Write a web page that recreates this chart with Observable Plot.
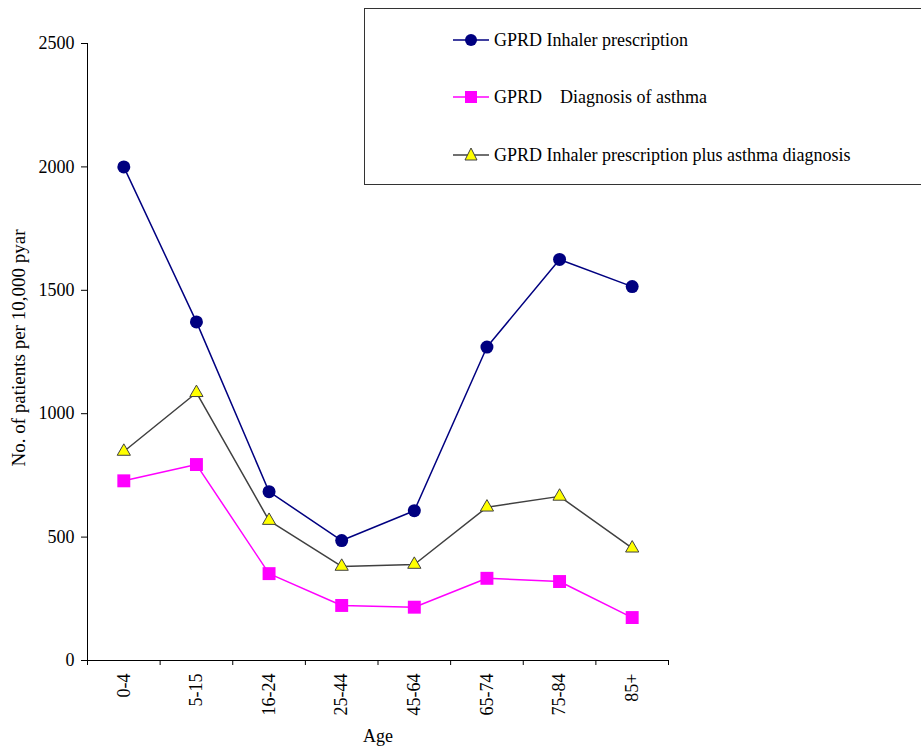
<!DOCTYPE html>
<html>
<head>
<meta charset="utf-8">
<script src="https://cdn.jsdelivr.net/npm/d3@7"></script>
<script src="https://cdn.jsdelivr.net/npm/@observablehq/plot@0.6"></script>
<style>
  body { margin: 0; background: white; font-family: "Liberation Serif", "Times New Roman", Times, serif; }
  #wrap { position: relative; width: 921px; height: 751px; overflow: hidden; }
  #wrap svg, #wrap svg text { font-family: "Liberation Serif", "Times New Roman", Times, serif !important; }
  #legend { position: absolute; left: 364px; top: 8px; width: 600px; height: 177px; border: 1px solid #333; box-sizing: border-box; background: white; }
  .item { position: absolute; left: 88px; height: 20px; display: flex; align-items: center; font-size: 18px; color: #000; white-space: pre; }
  .item svg { margin-right: 5px; }
</style>
</head>
<body>
<div id="wrap"></div>
<script>
const ages = ["0-4", "5-15", "16-24", "25-44", "45-64", "65-74", "75-84", "85+"];
const inhaler = [2000, 1372, 684, 486, 607, 1270, 1625, 1515];
const diagnosis = [728, 794, 352, 223, 216, 333, 320, 174];
const combined = [847, 1085, 567, 381, 389, 621, 665, 455];
const yTicks = [0, 500, 1000, 1500, 2000, 2500];
const seriesNames = ["GPRD Inhaler prescription", "GPRD    Diagnosis of asthma", "GPRD Inhaler prescription plus asthma diagnosis"];

const rows = (vals) => vals.map((v, i) => ({x: i + 0.5, y: v}));
const dInh = rows(inhaler), dDia = rows(diagnosis), dCom = rows(combined);

const chart = Plot.plot({
  width: 921,
  height: 751,
  marginLeft: 87,
  marginRight: 253,
  marginTop: 43,
  marginBottom: 91,
  style: {fontSize: "18px", background: "white", color: "#000"},
  x: {domain: [0, 8], axis: null},
  y: {domain: [0, 2500], axis: null},
  marks: [
    Plot.ruleX([0], {stroke: "#000", strokeWidth: 1}),
    Plot.ruleY([0], {stroke: "#000", strokeWidth: 1}),
    Plot.axisY(yTicks, {tickSize: 6, tickPadding: 7, fontSize: 18, label: null, stroke: "#000", tickFormat: d => String(d)}),
    Plot.axisX(d3.range(9), {tickSize: 5, tickFormat: () => "", label: null, stroke: "#000"}),
    Plot.axisX(d3.range(8).map(i => i + 0.5), {tickSize: 0, tickPadding: 13, tickRotate: -90, fontSize: 18, label: null, tickFormat: d => ages[Math.round(d - 0.5)]}),
    Plot.text(["No. of patients per 10,000 pyar"], {frameAnchor: "left", textAnchor: "middle", dx: -69, dy: -4, rotate: -90, fontSize: 19}),
    Plot.text(["Age"], {frameAnchor: "bottom", dy: 81, fontSize: 18}),
    Plot.line(dInh, {x: "x", y: "y", stroke: "#000080", strokeWidth: 1.5}),
    Plot.line(dCom, {x: "x", y: "y", stroke: "#404040", strokeWidth: 1.5}),
    Plot.line(dDia, {x: "x", y: "y", stroke: "#ff00ff", strokeWidth: 1.5}),
    Plot.dot(dInh, {x: "x", y: "y", r: 6.5, fill: "#000080", stroke: "none"}),
    Plot.dot(dDia, {x: "x", y: "y", r: 7.3, symbol: "square", fill: "#ff00ff", stroke: "none"}),
    Plot.dot(dCom, {x: "x", y: "y", r: 4.9, symbol: "triangle", fill: "#ffff00", stroke: "#404040", strokeWidth: 1})
  ]
});

const wrap = document.getElementById("wrap");
wrap.appendChild(chart);

const legend = document.createElement("div");
legend.id = "legend";
const symbols = [
  `<svg width="36" height="16"><line x1="0" y1="8" x2="36" y2="8" stroke="#000080" stroke-width="1.5"/><circle cx="18" cy="8" r="6" fill="#000080"/></svg>`,
  `<svg width="36" height="16"><line x1="0" y1="8" x2="36" y2="8" stroke="#ff00ff" stroke-width="1.5"/><rect x="12" y="2" width="12" height="12" fill="#ff00ff"/></svg>`,
  `<svg width="36" height="16"><line x1="0" y1="8" x2="36" y2="8" stroke="#404040" stroke-width="1.5"/><path d="M18,1 L24,13 L12,13 Z" fill="#ffff00" stroke="#404040" stroke-width="1"/></svg>`
];
const tops = [21, 78, 136];
seriesNames.forEach((name, i) => {
  const it = document.createElement("div");
  it.className = "item";
  it.style.top = tops[i] + "px";
  it.innerHTML = symbols[i] + `<span>${name}</span>`;
  legend.appendChild(it);
});
wrap.appendChild(legend);
</script>
</body>
</html>
